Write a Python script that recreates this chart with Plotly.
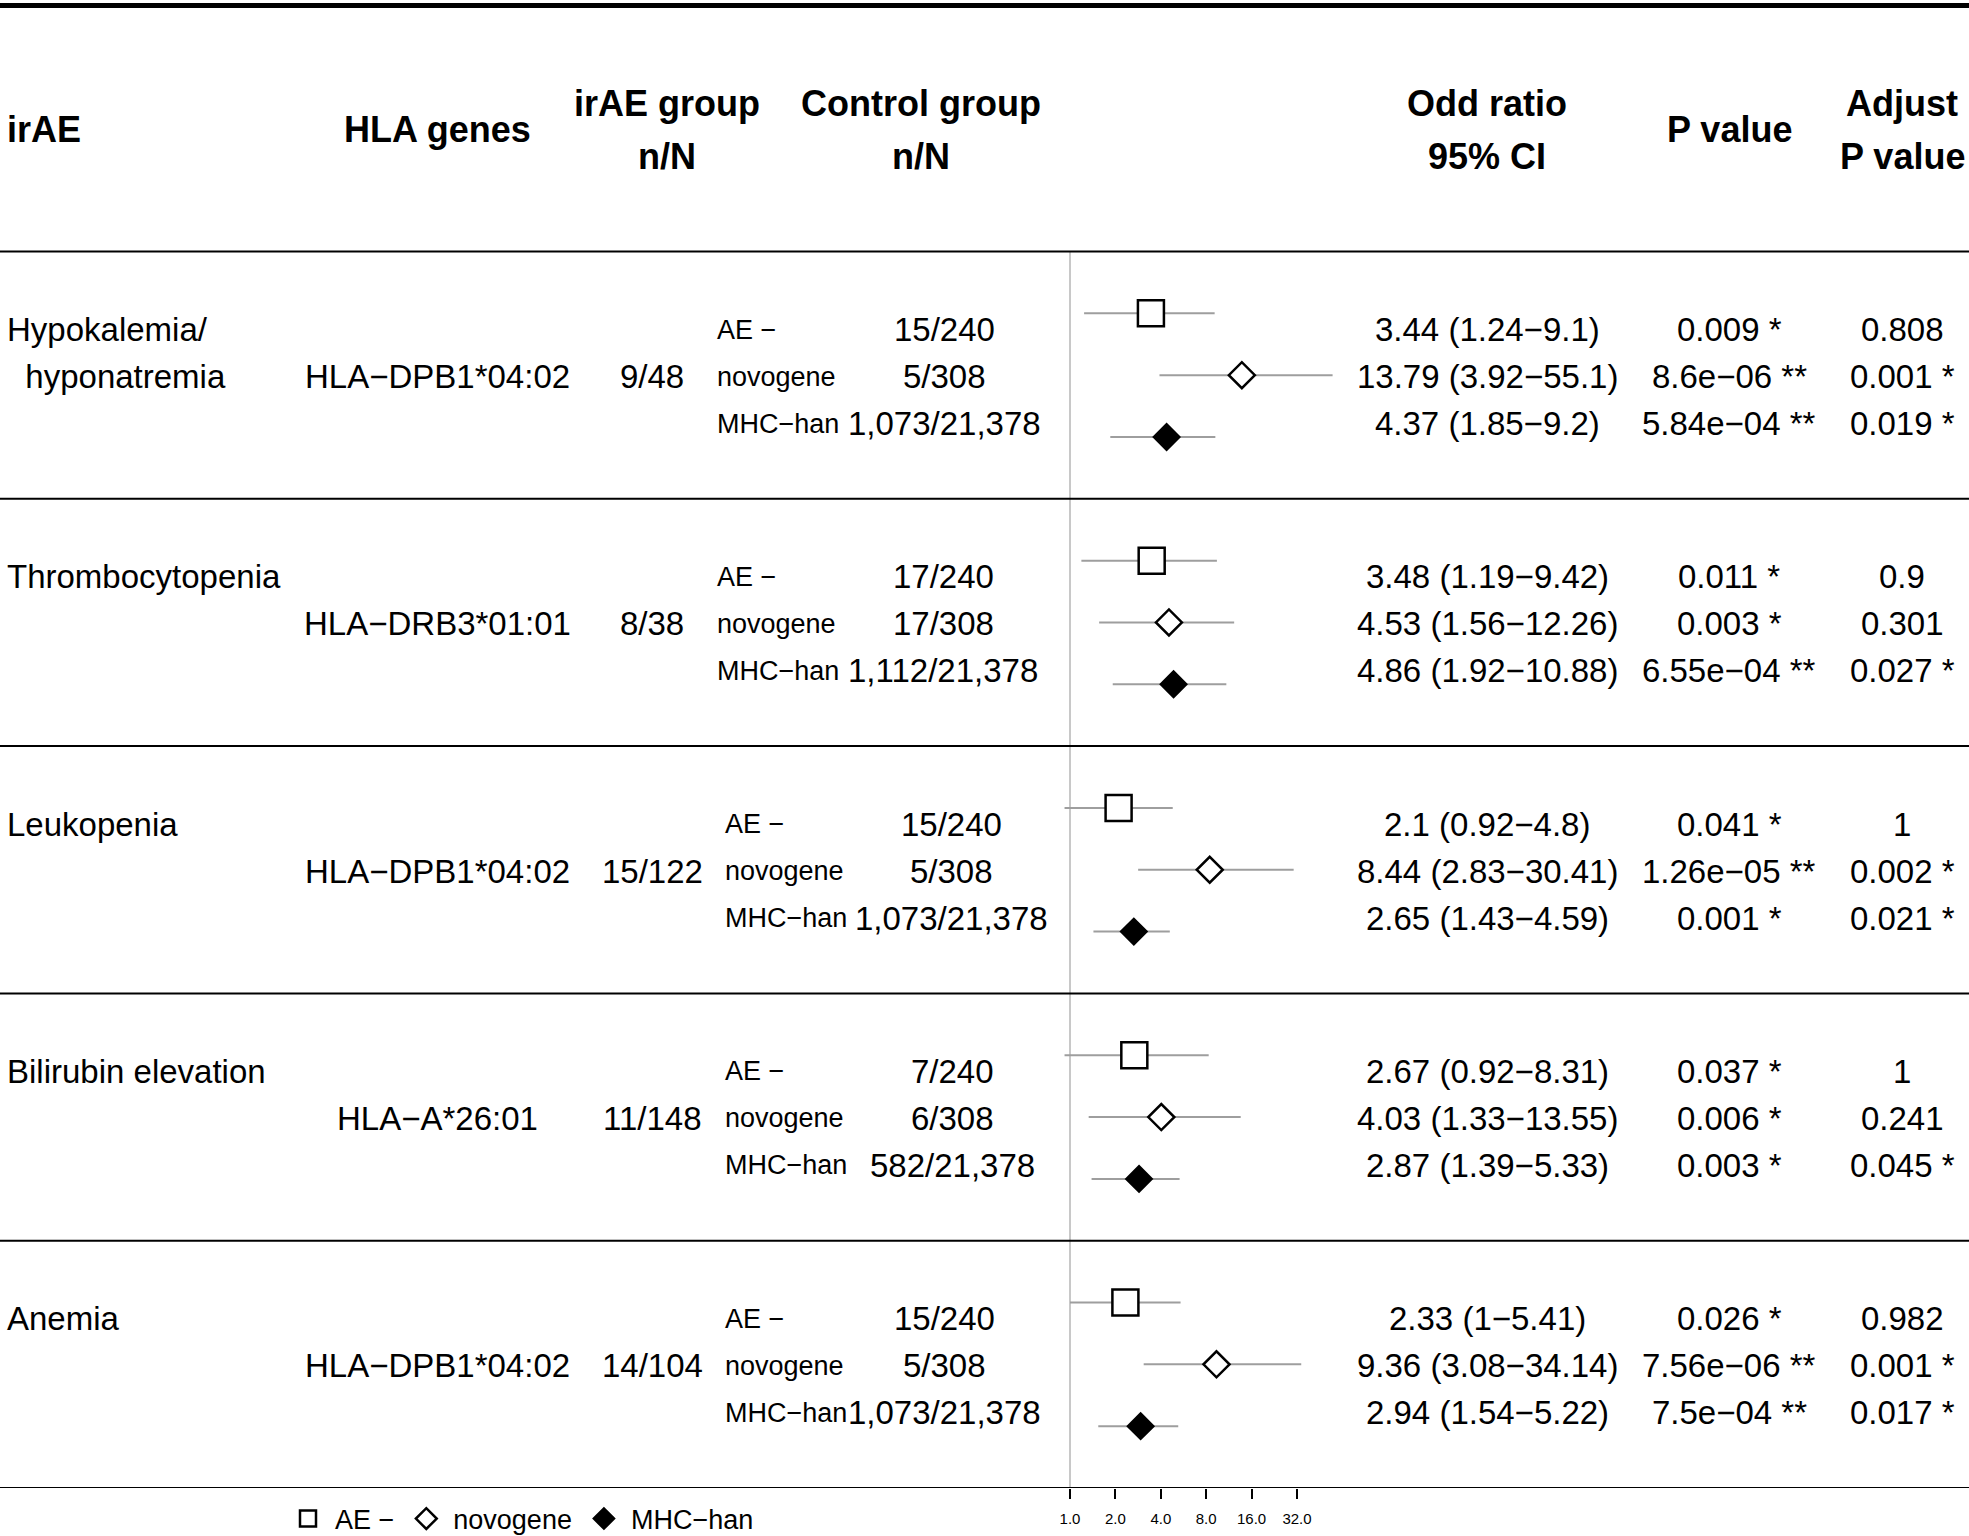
import math
import plotly.graph_objects as go

# ------------------------------------------------------------------ data
irae_names = ["Hypokalemia/", "Thrombocytopenia", "Leukopenia", "Bilirubin elevation", "Anemia"]
irae_name_line2 = ["hyponatremia", "", "", "", ""]
hla_genes = ["HLA−DPB1*04:02", "HLA−DRB3*01:01", "HLA−DPB1*04:02", "HLA−A*26:01", "HLA−DPB1*04:02"]
irae_group_nN = ["9/48", "8/38", "15/122", "11/148", "14/104"]
control_sets = ["AE −", "novogene", "MHC−han"]
control_group_nN = [
    ["15/240", "5/308", "1,073/21,378"],
    ["17/240", "17/308", "1,112/21,378"],
    ["15/240", "5/308", "1,073/21,378"],
    ["7/240", "6/308", "582/21,378"],
    ["15/240", "5/308", "1,073/21,378"],
]
odds_ratio = [[3.44, 13.79, 4.37], [3.48, 4.53, 4.86], [2.1, 8.44, 2.65], [2.67, 4.03, 2.87], [2.33, 9.36, 2.94]]
ci_low = [[1.24, 3.92, 1.85], [1.19, 1.56, 1.92], [0.92, 2.83, 1.43], [0.92, 1.33, 1.39], [1, 3.08, 1.54]]
ci_high = [[9.1, 55.1, 9.2], [9.42, 12.26, 10.88], [4.8, 30.41, 4.59], [8.31, 13.55, 5.33], [5.41, 34.14, 5.22]]
p_value = [
    ["0.009 *", "8.6e−06 **", "5.84e−04 **"],
    ["0.011 *", "0.003 *", "6.55e−04 **"],
    ["0.041 *", "1.26e−05 **", "0.001 *"],
    ["0.037 *", "0.006 *", "0.003 *"],
    ["0.026 *", "7.56e−06 **", "7.5e−04 **"],
]
adjust_p_value = [
    ["0.808", "0.001 *", "0.019 *"],
    ["0.9", "0.301", "0.027 *"],
    ["1", "0.002 *", "0.021 *"],
    ["1", "0.241", "0.045 *"],
    ["0.982", "0.001 *", "0.017 *"],
]
tick_values = [1, 2, 4, 8, 16, 32]
tick_labels = ["1.0", "2.0", "4.0", "8.0", "16.0", "32.0"]

# ------------------------------------------------------------------ layout geometry
W, H = 1969, 1536
FONT = "Liberation Sans, Arial, Helvetica, sans-serif"
HEAD_SEP_PX = 251.5
AXIS_PX = 1488.0
ROWS_PER_GROUP = 4
N_GROUPS = len(irae_names)
Y_BOTTOM = N_GROUPS * ROWS_PER_GROUP
PX_PER_UNIT = (AXIS_PX - HEAD_SEP_PX) / Y_BOTTOM


def yu(px):
    """pixel row -> y-axis units"""
    return (px - HEAD_SEP_PX) / PX_PER_UNIT


def xp(px):
    return px / W


TEXT_ROW_OFFSETS = [78 / PX_PER_UNIT, 125 / PX_PER_UNIT, 172 / PX_PER_UNIT]
FOREST_X0, FOREST_X1 = 1030, 1350
REF_PX = 1070
PX_PER_DOUBLING = 45.4
px_per_decade = PX_PER_DOUBLING / math.log10(2)
x_range = [-(REF_PX - FOREST_X0) / px_per_decade, (FOREST_X1 - REF_PX) / px_per_decade]

COL_IRAE = 5
COL_HLA = 437
COL_IRAE_NN = 652
COL_SUB = [715, 715, 723, 723, 723]
COL_CTRL = [944, 943, 951, 952, 944]
COL_OR = 1487
COL_P = 1729
COL_ADJ = 1902
HEAD_IRAE_NN = 667
HEAD_CTRL = 921

BODY = 33
SMALL = 27
HEAD = 36

fig = go.Figure()

# reference line at OR = 1
fig.add_trace(go.Scatter(x=[1, 1], y=[0, Y_BOTTOM], mode="lines",
                         line=dict(color="#c8c8c8", width=2), showlegend=False,
                         hoverinfo="skip", cliponaxis=False))

# confidence interval lines
ci_x, ci_y = [], []
for g in range(N_GROUPS):
    for s in range(len(control_sets)):
        ci_x += [ci_low[g][s], ci_high[g][s], None]
        y = g * ROWS_PER_GROUP + s + 1
        ci_y += [y, y, None]
fig.add_trace(go.Scatter(x=ci_x, y=ci_y, mode="lines", line=dict(color="#9e9e9e", width=2),
                         showlegend=False, hoverinfo="skip", cliponaxis=False))

# point estimates
styles = [
    dict(symbol="square", size=26, color="white", line=dict(color="black", width=2.5)),
    dict(symbol="diamond", size=20, color="white", line=dict(color="black", width=2.5)),
    dict(symbol="diamond", size=20, color="black", line=dict(color="black", width=2)),
]
for s, name in enumerate(control_sets):
    fig.add_trace(go.Scatter(
        x=[odds_ratio[g][s] for g in range(N_GROUPS)],
        y=[g * ROWS_PER_GROUP + s + 1 for g in range(N_GROUPS)],
        mode="markers", name=name, marker=styles[s], cliponaxis=False))

ann = []


def add_text(text, x_px, y, size=BODY, anchor="center", bold=False):
    ann.append(dict(text=("<b>%s</b>" % text) if bold else text, x=xp(x_px), y=y,
                    xref="paper", yref="y", xanchor=anchor, yanchor="middle",
                    showarrow=False, font=dict(family=FONT, size=size, color="black")))


# header
add_text("irAE", COL_IRAE, yu(129), HEAD, "left", True)
add_text("HLA genes", COL_HLA, yu(129), HEAD, "center", True)
add_text("irAE group", HEAD_IRAE_NN, yu(103), HEAD, "center", True)
add_text("n/N", HEAD_IRAE_NN, yu(156), HEAD, "center", True)
add_text("Control group", HEAD_CTRL, yu(103), HEAD, "center", True)
add_text("n/N", HEAD_CTRL, yu(156), HEAD, "center", True)
add_text("Odd ratio", COL_OR, yu(103), HEAD, "center", True)
add_text("95% CI", COL_OR, yu(156), HEAD, "center", True)
add_text("P value", COL_P, yu(129), HEAD, "center", True)
add_text("Adjust", COL_ADJ, yu(103), HEAD, "center", True)
add_text("P value", COL_ADJ, yu(156), HEAD, "center", True)

# body
for g in range(N_GROUPS):
    top = g * ROWS_PER_GROUP
    rows = [top + o for o in TEXT_ROW_OFFSETS]
    add_text(irae_names[g], COL_IRAE, rows[0], BODY, "left")
    if irae_name_line2[g]:
        add_text("\u00a0\u00a0" + irae_name_line2[g], COL_IRAE, rows[1], BODY, "left")
    add_text(hla_genes[g], COL_HLA, rows[1], BODY)
    add_text(irae_group_nN[g], COL_IRAE_NN, rows[1], BODY)
    for s in range(len(control_sets)):
        add_text(control_sets[s], COL_SUB[g], rows[s], SMALL, "left")
        add_text(control_group_nN[g][s], COL_CTRL[g], rows[s], BODY)
        or_txt = "%g (%g−%g)" % (odds_ratio[g][s], ci_low[g][s], ci_high[g][s])
        add_text(or_txt, COL_OR, rows[s], BODY)
        add_text(p_value[g][s], COL_P, rows[s], BODY)
        add_text(adjust_p_value[g][s], COL_ADJ, rows[s], BODY)

# horizontal rules
shapes = [dict(type="line", xref="paper", yref="y", x0=0, x1=1, y0=yu(5.5), y1=yu(5.5),
               line=dict(color="black", width=5))]
for g in range(N_GROUPS + 1):
    yy = g * ROWS_PER_GROUP
    shapes.append(dict(type="line", xref="paper", yref="y", x0=0, x1=1, y0=yy, y1=yy,
                       line=dict(color="black", width=2)))

fig.update_layout(
    width=W, height=H,
    margin=dict(l=0, r=0, t=0, b=0, pad=0, autoexpand=False),
    paper_bgcolor="white", plot_bgcolor="white",
    annotations=ann, shapes=shapes,
    xaxis=dict(type="log", domain=[xp(FOREST_X0), xp(FOREST_X1)], range=x_range,
               tickvals=tick_values, ticktext=tick_labels, ticks="outside", ticklen=10,
               tickwidth=2, tickcolor="black", showgrid=False, zeroline=False, showline=False,
               ticklabelstandoff=7, automargin=False,
               tickfont=dict(family=FONT, size=15, color="black"), fixedrange=True),
    yaxis=dict(domain=[(H - AXIS_PX) / H, 1], range=[Y_BOTTOM, yu(0)], visible=False,
               showgrid=False, zeroline=False, fixedrange=True, automargin=False),
    showlegend=True,
    legend=dict(orientation="h", x=xp(520), xanchor="center", y=(H - 1519) / H, yanchor="middle",
                font=dict(family=FONT, size=SMALL, color="black"), itemwidth=44,
                bgcolor="rgba(0,0,0,0)", traceorder="normal"),
)

post = (
    "document.documentElement.style.margin='0';"
    "document.documentElement.style.overflow='hidden';"
    "document.body.style.margin='0';"
    "document.body.style.overflow='hidden';"
)
fig.write_html("out.html", post_script=post, config={"displayModeBar": False})
